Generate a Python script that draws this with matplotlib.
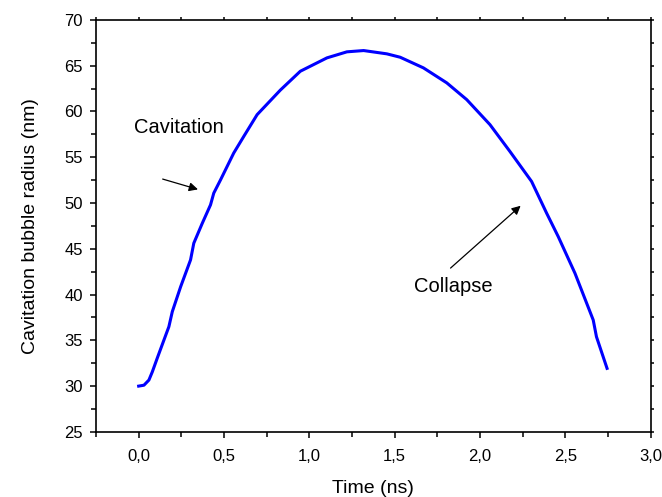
import matplotlib
matplotlib.use("Agg")
import matplotlib.pyplot as plt
from matplotlib.ticker import MultipleLocator, FuncFormatter

plt.rcParams['font.family'] = ['Liberation Sans', 'DejaVu Sans']

# values
time_ns = [0.0, 0.031, 0.060, 0.080, 0.109, 0.148, 0.177, 0.197, 0.246, 0.304,
           0.323, 0.373, 0.421, 0.440, 0.480, 0.557, 0.616, 0.694, 0.830, 0.947,
           1.103, 1.220, 1.318, 1.454, 1.532, 1.668, 1.805, 1.922, 2.058, 2.175,
           2.302, 2.390, 2.458, 2.556, 2.663, 2.682, 2.744]
radius_nm = [30.0, 30.1, 30.66, 31.56, 33.06, 35.03, 36.49, 38.13, 40.86, 43.79,
             45.61, 47.80, 49.80, 51.08, 52.54, 55.46, 57.28, 59.65, 62.33, 64.39,
             65.85, 66.51, 66.65, 66.29, 65.92, 64.76, 63.12, 61.29, 58.56, 55.63,
             52.35, 48.89, 46.33, 42.33, 37.22, 35.39, 31.94]

fig = plt.figure(figsize=(6.62, 4.97), dpi=100)
ax = fig.add_axes([0.145, 0.131, 0.838, 0.829])

ax.plot(time_ns, radius_nm, color='#0000ff', lw=2.2)

ax.set_xlim(-0.25, 3.0)
ax.set_ylim(25, 70)
ax.xaxis.set_major_locator(MultipleLocator(0.5))
ax.xaxis.set_minor_locator(MultipleLocator(0.25))
ax.yaxis.set_major_locator(MultipleLocator(5))
ax.yaxis.set_minor_locator(MultipleLocator(2.5))
ax.xaxis.set_major_formatter(FuncFormatter(lambda v, p: f"{v:.1f}".replace('.', ',')))
ax.yaxis.set_major_formatter(FuncFormatter(lambda v, p: f"{v:.0f}"))

for s in ax.spines.values():
    s.set_linewidth(1.2)
ax.tick_params(which='both', direction='out', width=1.1, labelsize=12)
ax.tick_params(axis='x', pad=8)
ax.tick_params(axis='y', pad=5)
ax.tick_params(which='major', length=4.5)
ax.tick_params(which='minor', length=3.5)
ax.tick_params(which='both', top=True, right=True)

# small ticks on top and right without labels
for tk in ax.xaxis.get_major_ticks() + ax.xaxis.get_minor_ticks():
    tk.tick2line.set_markersize(2)
for tk in ax.yaxis.get_major_ticks() + ax.yaxis.get_minor_ticks():
    tk.tick2line.set_markersize(2)

ax.set_xlabel('Time (ns)', fontsize=14, labelpad=11)
ax.set_ylabel('Cavitation bubble radius (nm)', fontsize=14, labelpad=18)

ax.text(0.234, 58.3, 'Cavitation', fontsize=14.5, ha='center', va='center')
ax.annotate('', xy=(0.363, 51.4), xytext=(0.125, 52.7),
            arrowprops=dict(arrowstyle='-|>', color='black', lw=0.9, mutation_scale=13))
ax.text(1.842, 40.9, 'Collapse', fontsize=14.5, ha='center', va='center')
ax.annotate('', xy=(2.250, 49.9), xytext=(1.815, 42.69),
            arrowprops=dict(arrowstyle='-|>', color='black', lw=0.9, mutation_scale=13))

fig.savefig('out.png', dpi=100)
